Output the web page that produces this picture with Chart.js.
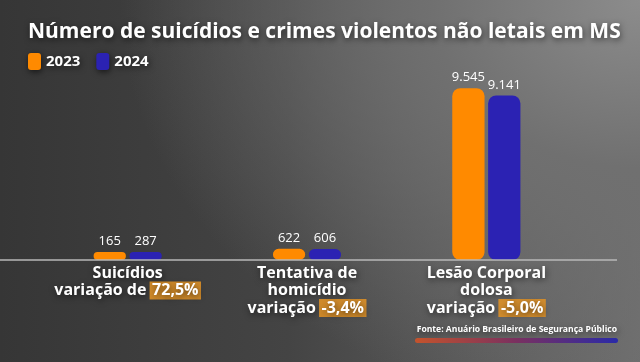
<!DOCTYPE html>
<html lang="pt-BR">
<head>
    <meta charset="UTF-8">
    <title>Suicídios e crimes violentos não letais em MS</title>
    <style>
        html, body { margin: 0; padding: 0; }
        body {
            width: 640px; height: 362px; overflow: hidden;
            background: radial-gradient(ellipse 520px 420px at 100% 0%, #8c8c8c 0%, #707070 40%, rgba(80,80,80,0) 100%),
                        linear-gradient(90deg, #363636 0%, #444 45%, #6e6e6e 100%);
        }
        #wrap { position: relative; width: 640px; height: 362px; }
    </style>
</head>
<body>
    <div id="wrap">
        <canvas id="myChart"></canvas>
    </div>

    <script src="https://cdn.jsdelivr.net/npm/chart.js"></script>

    <script>
        // dados
        let labels = ['Suicídios', 'Tentativa de homicídio', 'Lesão Corporal dolosa'];
        let data2023 = [165, 622, 9545];
        let data2024 = [287, 606, 9141];
        let variacoes = ['72,5%', '-3,4%', '-5,0%'];

        // linhas do rótulo de cada categoria
        let labelLines = [['Suicídios'], ['Tentativa de', 'homicídio'], ['Lesão Corporal', 'dolosa']];
        let prefixos = ['variação de ', 'variação ', 'variação '];

        const titulo = 'Número de suicídios e crimes violentos não letais em MS';
        const fonte = 'Fonte: Anuário Brasileiro de Segurança Público';
        const FONT = '"Open Sans", sans-serif';

        function fmt(v) {
            return v.toString().replace(/\B(?=(\d{3})+(?!\d))/g, '.');
        }

        function shadowOn(ctx) {
            ctx.shadowColor = 'rgba(0,0,0,0.6)';
            ctx.shadowBlur = 6;
            ctx.shadowOffsetX = 1;
            ctx.shadowOffsetY = 2;
        }
        function shadowOff(ctx) {
            ctx.shadowColor = 'transparent';
            ctx.shadowBlur = 0;
            ctx.shadowOffsetX = 0;
            ctx.shadowOffsetY = 0;
        }

        const decor = {
            id: 'decor',
            afterDatasetsDraw(chart) {
                const ctx = chart.ctx;
                const x = chart.scales.x;
                const y = chart.scales.y;
                const y0 = y.getPixelForValue(0);

                ctx.save();

                // linha base
                ctx.strokeStyle = '#b8b8b8';
                ctx.lineWidth = 1.5;
                ctx.beginPath();
                ctx.moveTo(0, y0);
                ctx.lineTo(617, y0);
                ctx.stroke();

                // valores acima das barras
                ctx.fillStyle = '#ffffff';
                ctx.font = '400 13px ' + FONT;
                ctx.textAlign = 'center';
                ctx.textBaseline = 'bottom';
                chart.data.datasets.forEach((ds, di) => {
                    const meta = chart.getDatasetMeta(di);
                    meta.data.forEach((bar, i) => {
                        ctx.fillText(fmt(ds.data[i]), bar.x, bar.y - 4);
                    });
                });

                // título
                shadowOn(ctx);
                ctx.textAlign = 'left';
                ctx.textBaseline = 'middle';
                ctx.font = '700 21px ' + FONT;
                ctx.fillText(titulo, 28, 32);

                // legenda
                ctx.font = '700 15px ' + FONT;
                let lx = 28;
                chart.data.datasets.forEach((ds) => {
                    ctx.fillStyle = ds.backgroundColor;
                    ctx.beginPath();
                    ctx.roundRect(lx, 53, 13, 17, 3);
                    ctx.fill();
                    ctx.fillStyle = '#ffffff';
                    ctx.fillText(ds.label, lx + 18, 62);
                    lx += 18 + ctx.measureText(ds.label).width + 16;
                });

                // rótulos das categorias
                ctx.font = '700 16px ' + FONT;
                ctx.textBaseline = 'middle';
                labelLines.forEach((lines, i) => {
                    const cx = x.getPixelForValue(i);
                    let ly = y0 + 13;
                    lines.forEach((t) => {
                        ctx.textAlign = 'center';
                        ctx.fillStyle = '#ffffff';
                        ctx.fillText(t, cx, ly);
                        ly += 17.5;
                    });
                    const pre = prefixos[i];
                    const val = variacoes[i];
                    const wPre = ctx.measureText(pre).width;
                    const wVal = ctx.measureText(val).width;
                    const left = cx - (wPre + wVal + 4) / 2;
                    ctx.textAlign = 'left';
                    ctx.fillText(pre, left, ly);
                    shadowOff(ctx);
                    ctx.fillStyle = 'rgba(222,145,40,0.9)';
                    ctx.fillRect(left + wPre - 1, ly - 9, wVal + 5, 18);
                    shadowOn(ctx);
                    ctx.fillStyle = '#ffffff';
                    ctx.fillText(val, left + wPre + 1.5, ly);
                });

                // fonte
                ctx.font = '700 8.6px ' + FONT;
                ctx.textAlign = 'right';
                ctx.fillText(fonte, 617, 330);
                shadowOff(ctx);

                const g = ctx.createLinearGradient(415, 0, 618, 0);
                g.addColorStop(0, '#c4532c');
                g.addColorStop(0.5, '#7a3060');
                g.addColorStop(1, '#2a2aa8');
                ctx.fillStyle = g;
                ctx.beginPath();
                ctx.roundRect(415, 338, 203, 5, 2.5);
                ctx.fill();

                ctx.restore();
            }
        };

        const ctx = document.getElementById('myChart');

        let datasets = [
            {
                label: '2023',
                data: data2023,
                backgroundColor: '#ff8a00'
            },
            {
                label: '2024',
                data: data2024,
                backgroundColor: '#2b22b3'
            }
        ];

        let options = {
            responsive: false,
            animation: false,
            layout: {
                padding: { top: 80, left: 38, right: 64, bottom: 102 }
            },
            datasets: {
                bar: {
                    categoryPercentage: 0.4,
                    barPercentage: 0.9,
                    borderRadius: 8,
                    borderSkipped: false,
                    minBarLength: 8
                }
            },
            scales: {
                x: { display: false },
                y: { display: false, min: 0, max: 10000 }
            },
            plugins: {
                legend: { display: false },
                title: { display: false },
                tooltip: { enabled: false }
            }
        };

        ctx.width = 640;
        ctx.height = 362;

        let chart = new Chart(ctx, {
            type: 'bar',
            data: {
                labels: labels,
                datasets: datasets
            },
            options: options,
            plugins: [decor]
        });
    </script>
</body>
</html>
